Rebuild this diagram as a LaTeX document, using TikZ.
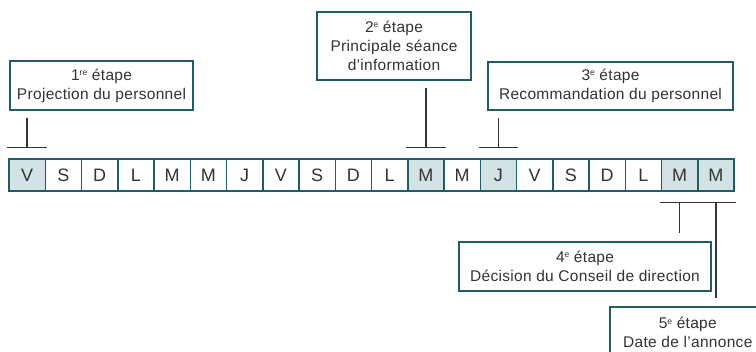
\documentclass[tikz,border=0pt]{standalone}
\usepackage{fontspec}
\setmainfont[LetterSpace=2]{Liberation Sans}
\definecolor{stepline}{HTML}{1F5C63}
\definecolor{dayfill}{HTML}{D3E2E5}
\definecolor{ink}{HTML}{333333}
\newcommand\expo[1]{\raisebox{.6ex}{\fontsize{8.5}{8.5}\selectfont #1}}
\tikzset{
  cell/.style={draw=stepline, line width=1.5pt, minimum width=36.25pt, minimum height=32pt,
    inner sep=0pt, text=ink, font=\fontsize{18}{18}\selectfont},
  hl/.style={fill=dayfill},
  plain/.style={fill=white},
  stepbox/.style={draw=stepline, line width=1.6pt, fill=white, align=center, inner sep=0pt,
    text=ink, font=\fontsize{15.5}{19}\selectfont},
  tick/.style={draw=ink, line width=1.3pt}
}
\begin{document}
\begin{tikzpicture}[x=1pt, y=-1pt]
  \useasboundingbox (0,0) rectangle (756,352);

  % days
  \foreach \d/\f [count=\i from 0] in {V/hl,S/plain,D/plain,L/plain,M/plain,M/plain,J/plain,
      V/plain,S/plain,D/plain,L/plain,M/hl,M/plain,J/hl,V/plain,S/plain,D/plain,L/plain,M/hl,M/hl}
    \node[cell,\f] (d\i) at ({27.125+36.25*\i},175) {\d};

  % steps
  \node[stepbox, minimum width=183pt, minimum height=49pt] (e1) at (101.5,85.5)
    {1\expo{re} étape\\Projection du personnel};
  \node[stepbox, minimum width=154pt, minimum height=68pt] (e2) at (394,46)
    {2\expo{e} étape\\Principale séance\\d’information};
  \node[stepbox, minimum width=245pt, minimum height=48pt] (e3) at (610.5,86)
    {3\expo{e} étape\\Recommandation du personnel};
  \node[stepbox, minimum width=252pt, minimum height=49pt] (e4) at (585,266.5)
    {4\expo{e} étape\\Décision du Conseil de direction};
  \node[stepbox, anchor=north west, minimum width=156pt, minimum height=52pt] (e5) at (609,306)
    {5\expo{e} étape\\Date de l’annonce};

  \foreach \e/\c in {e1/d0,e2/d11,e3/d13} {
    \draw[tick] ([yshift=-7pt]\e.south -| \c) -- ([yshift=11pt]\c.north);
    \draw[tick] ([xshift=-1pt,yshift=11pt]\c.north west) -- ([xshift=1pt,yshift=11pt]\c.north east);
  }
  \foreach \e/\c in {e4/d18,e5/d19} {
    \draw[tick] ([yshift=-11pt]\c.south) -- ([yshift=8pt]\e.north -| \c);
    \draw[tick] ([xshift=-1pt,yshift=-11pt]\c.south west) -- ([xshift=1pt,yshift=-11pt]\c.south east);
  }
\end{tikzpicture}
\end{document}
